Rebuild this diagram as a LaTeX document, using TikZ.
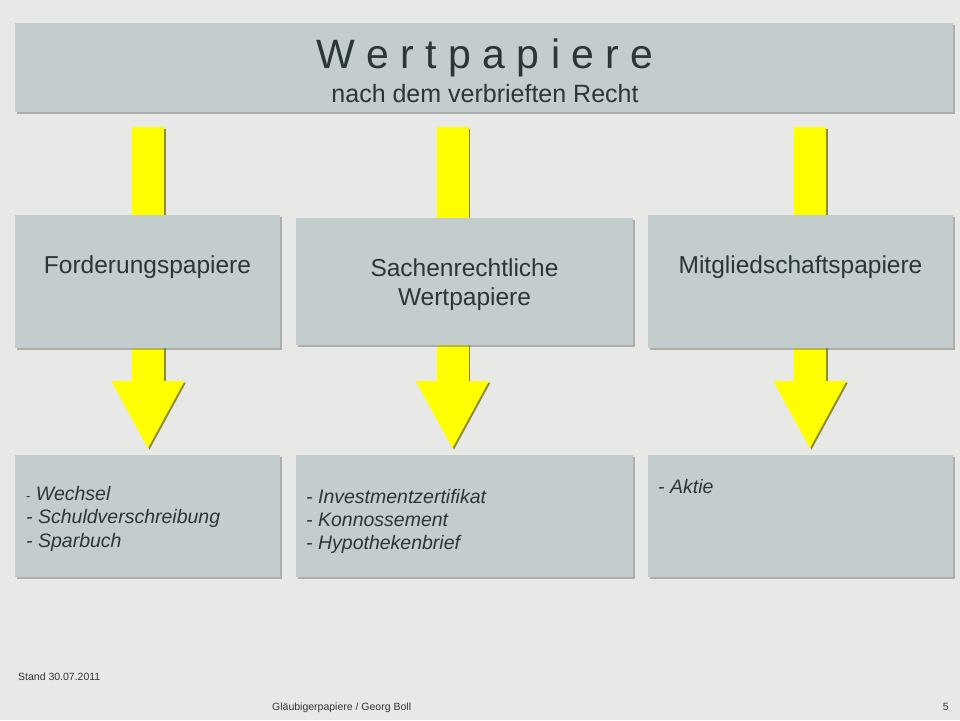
\documentclass[tikz,border=0pt]{standalone}
\usepackage{fontspec}
\setmainfont{Liberation Sans}
\usetikzlibrary{positioning,shadows,arrows.meta}
\definecolor{paper}{RGB}{232,232,230}
\definecolor{boxgray}{RGB}{195,205,205}
\definecolor{ink}{RGB}{42,54,56}
\definecolor{signal}{RGB}{255,255,0}
\definecolor{signalshade}{RGB}{140,140,40}
\tikzset{%
  box/.style={fill=boxgray, anchor=north west, inner sep=0pt, outer sep=0pt,
    drop shadow={shadow xshift=1.5pt, shadow yshift=-1.5pt, fill=black!55}},
  headtext/.style={text=ink, font=\fontsize{24.5}{29}\selectfont, inner sep=0pt, align=center},
  listtext/.style={text=ink, font=\fontsize{19.5}{23.5}\selectfont\itshape, anchor=north west, inner sep=0pt, align=left},
  foot/.style={text=black!80, font=\fontsize{10.5}{12}\selectfont, inner sep=0pt},
  bigarrow/.style={line width=32pt, -{Triangle[length=67pt, width=73pt, line width=0pt]}}
}

\begin{document}
\begin{tikzpicture}[x=1pt, y=-1pt]

  \fill[paper] (0,0) rectangle (960,720);
  \useasboundingbox (0,0) rectangle (960,720);

  % arrow ends
  \coordinate (s1) at (148,127);   \coordinate (t1) at (148,448);
  \coordinate (s2) at (452.5,127); \coordinate (t2) at (452.5,448);
  \coordinate (s3) at (810,127);   \coordinate (t3) at (810,448);

  \foreach \a in {1,2,3} {
    \draw[bigarrow, signalshade] ([xshift=1.5pt, yshift=-1.5pt]s\a) -- ([xshift=1.5pt, yshift=-1.5pt]t\a);
    \draw[bigarrow, signal] (s\a) -- (t\a);
  }

  % boxes
  \node[box, minimum width=938pt, minimum height=89pt] (title) at (15,23) {};
  \node[box, minimum width=265pt, minimum height=133pt] (f1) at (15,215) {};
  \node[box, minimum width=337pt, minimum height=127pt] (f2) at (296,218) {};
  \node[box, minimum width=305pt, minimum height=133pt] (f3) at (648,215) {};
  \node[box, minimum width=265pt, minimum height=122pt] (l1) at (15,455) {};
  \node[box, minimum width=337pt, minimum height=122pt] (l2) at (296,455) {};
  \node[box, minimum width=305pt, minimum height=122pt] (l3) at (648,455) {};

  % texts
  \node[headtext, font=\fontsize{41}{45}\selectfont, anchor=base] (tname) at (485,68) {W e r t p a p i e r e};
  \node[headtext, font=\fontsize{25}{28}\selectfont, anchor=base] (tsub) at (485,102) {nach dem verbrieften Recht};

  \node[headtext, anchor=base] (h1) at (147.5,273) {Forderungspapiere};
  \node[headtext, anchor=north] (h2) at (464.5,259) {Sachenrechtliche\\Wertpapiere};
  \node[headtext, anchor=base] (h3) at (800.5,273) {Mitgliedschaftspapiere};

  \node[listtext] (x1) at (26,486) {{\upshape\fontsize{13}{15}\selectfont -} Wechsel\\- Schuldverschreibung\\- Sparbuch};
  \node[listtext, font=\fontsize{19.5}{23}\selectfont\itshape] (x2) at (306,489) {- Investmentzertifikat\\- Konnossement\\- Hypothekenbrief};
  \node[listtext] (x3) at (658,479) {- Aktie};

  % footer
  \node[foot, anchor=base west] (stand) at (18,680) {Stand 30.07.2011};
  \node[foot, anchor=base west] (autor) at (272,710) {Gläubigerpapiere / Georg Boll};
  \node[foot, anchor=base east] (page) at (949,710) {5};

\end{tikzpicture}
\end{document}
